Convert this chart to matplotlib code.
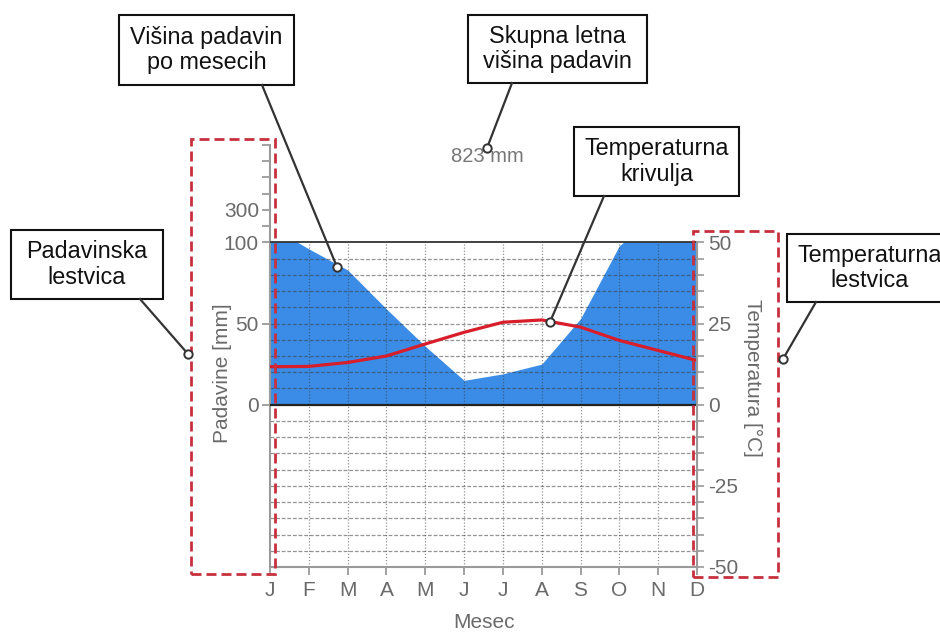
import matplotlib
matplotlib.use('Agg')
import matplotlib.pyplot as plt
from matplotlib.patches import Rectangle
from matplotlib.lines import Line2D
import numpy as np

plt.rcParams['font.family'] = ['Liberation Sans', 'DejaVu Sans']

# climate data
months = ['J', 'F', 'M', 'A', 'M', 'J', 'J', 'A', 'S', 'O', 'N', 'D']
precip_mm = [110, 96, 83, 59, 36, 15, 19, 25, 53, 98, 117, 112]
temp_c = [11.7, 11.8, 13.0, 15.0, 18.7, 22.3, 25.4, 26.1, 23.9, 19.8, 16.7, 13.6]

# axis scales
precip_ticks = [0, 50, 100, 200, 300, 400, 500, 600, 700]
precip_tick_labels = ['0', '50', '100', '', '300', '', '', '', '']
temp_major = [-50, -25, 0, 25, 50]
temp_minor = list(range(-50, 55, 5))

W, H = 940, 634
GRAY_TXT = '#6a6a6a'
GRAY_AX = '#9a9a9a'


def p2u(p):
  # precipitation -> axis units (2 mm = 1 deg below 100 mm, 20 mm = 1 deg above)
  p = np.asarray(p, dtype=float)
  return np.where(p <= 100, p / 2.0, 50 + (p - 100) / 20.0)


def fx(x):
  return x / W


def fy(y):
  return 1 - y / H


fig = plt.figure(figsize=(W / 100, H / 100), dpi=100)
ax = fig.add_axes([fx(270), fy(567), 427 / W, 422 / H])
ax.set_xlim(0, 11)
ax.set_ylim(-50, 80)
x = np.arange(len(months))

# precipitation area, clipped to the 100 mm frame
fill = ax.fill_between(x, 0, np.array(precip_mm) / 2.0, color='#3a8ce6', lw=0, zorder=1)
fill.set_clip_path(Rectangle((0, 0), 11, 50, transform=ax.transData))

# grid
grid_y = [v for v in temp_minor if v not in (-50, 0, 50)]
ax.hlines(grid_y, 0, 11, colors='#3a3a3a', alpha=0.55, lw=0.9, linestyles=(0, (3, 1.5)), zorder=2)
ax.vlines(x[1:-1], -50, 50, colors='#3a3a3a', alpha=0.55, lw=0.9, linestyles=(0, (1, 1.5)), zorder=2)
ax.axhline(50, color='#333333', lw=1.3, zorder=3)
ax.axhline(0, color='#222222', lw=1.6, zorder=3)

# temperature curve
ax.plot(x, temp_c, color='#d81e2a', lw=2.3, zorder=4, solid_capstyle='round')

for s in ['top', 'right']:
  ax.spines[s].set_visible(False)
ax.spines['left'].set_color(GRAY_AX)
ax.spines['left'].set_linewidth(1.5)
ax.spines['bottom'].set_color(GRAY_AX)
ax.spines['bottom'].set_linewidth(1.5)

ax.set_yticks(p2u(precip_ticks), precip_tick_labels)
ax.set_xticks(x, months)
ax.tick_params(axis='both', colors=GRAY_AX, labelcolor=GRAY_TXT, labelsize=15,
               length=6, width=1.3)
ax.tick_params(axis='y', pad=2)
ax.tick_params(axis='x', pad=4)

ax2 = ax.twinx()
ax2.set_ylim(-50, 80)
for s in ['top', 'left', 'bottom']:
  ax2.spines[s].set_visible(False)
ax2.spines['right'].set_bounds(-50, 50)
ax2.spines['right'].set_color(GRAY_AX)
ax2.spines['right'].set_linewidth(1.5)
ax2.set_yticks(temp_major, [str(t) for t in temp_major])
ax2.set_yticks(temp_minor, minor=True)
ax2.tick_params(axis='y', which='both', colors=GRAY_AX, labelcolor=GRAY_TXT,
                labelsize=15, length=5, width=1.2, pad=3)

# axis labels
fig.text(fx(222), fy(373), 'Padavine [mm]', rotation=90, ha='center', va='center',
         fontsize=15, color=GRAY_TXT)
fig.text(fx(753), fy(378), 'Temperatura [°C]', rotation=270, ha='center', va='center',
         fontsize=15, color=GRAY_TXT)
fig.text(fx(484), fy(622), 'Mesec', ha='center', va='center', fontsize=15, color=GRAY_TXT)
fig.text(fx(487), fy(157), f'{sum(precip_mm)} mm', ha='center', va='center',
         fontsize=14.5, color='#777777')

# dashed red frames around the scales
for x0, y0, x1, y1 in [(191, 139, 275, 574), (693, 231, 778, 577)]:
  fig.add_artist(Rectangle((fx(x0), fy(y1)), (x1 - x0) / W, (y1 - y0) / H,
                           transform=fig.transFigure, fill=False, ec='#c8303e',
                           lw=2, ls=(0, (3.6, 1.8)), zorder=3))

# callouts: box (left, top, right, bottom), text, line start, line end
callouts = [
  ((119, 15, 294, 85), 'Višina padavin\npo mesecih', (262, 85), (337, 267)),
  ((468, 15, 647, 83), 'Skupna letna\nvišina padavin', (512, 83), (487, 148)),
  ((574, 127, 739, 196), 'Temperaturna\nkrivulja', (604, 196), (550, 322)),
  ((11, 230, 163, 299), 'Padavinska\nlestvica', (140, 299), (188, 354)),
  ((787, 234, 953, 302), 'Temperaturna\nlestvica', (816, 302), (783, 359)),
]
for (l, t, r, b), label, p0, p1 in callouts:
  fig.add_artist(Rectangle((fx(l), fy(b)), (r - l) / W, (b - t) / H,
                           transform=fig.transFigure, fc='white', ec='#111111',
                           lw=1.5, zorder=5))
  fig.text(fx((l + r) / 2), fy((t + b) / 2), label, ha='center', va='center',
           fontsize=16.8, color='#111111', linespacing=1.15, zorder=6)
  fig.add_artist(Line2D([fx(p0[0]), fx(p1[0])], [fy(p0[1]), fy(p1[1])],
                        transform=fig.transFigure, color='#333333', lw=1.6, zorder=5))
  fig.add_artist(Line2D([fx(p1[0])], [fy(p1[1])], transform=fig.transFigure,
                        marker='o', ms=6, mfc='white', mec='#333333', mew=1.4,
                        ls='none', zorder=6))

plt.savefig('out.png', dpi=100)
